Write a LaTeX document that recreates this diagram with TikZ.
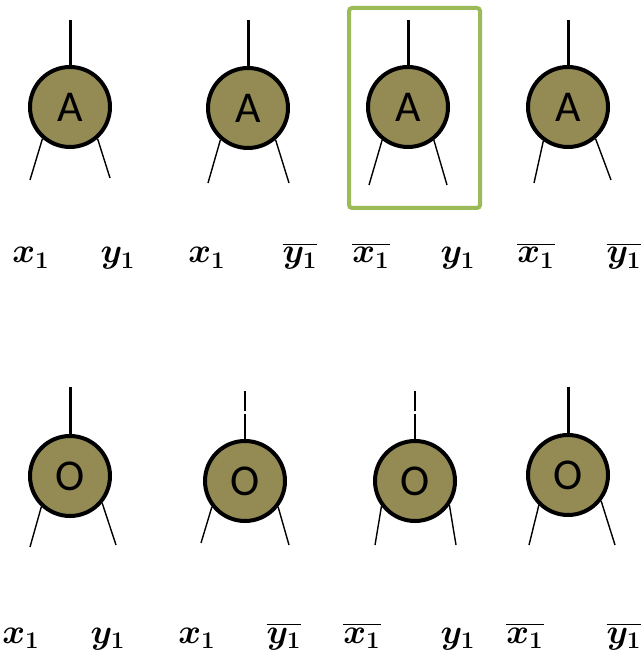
\documentclass[tikz,border=0pt]{standalone}
\usepackage{fontspec}
\setmainfont{Carlito}
\usepackage{bm}
\usetikzlibrary{positioning}
\definecolor{gatefill}{RGB}{148,138,84}
\definecolor{boxgreen}{RGB}{155,187,89}
\tikzstyle{gate} = [circle, draw=black, line width=2pt, fill=gatefill, minimum size=40pt, inner sep=0pt, font=\fontsize{22}{24}\selectfont]
\tikzstyle{wire} = [line width=1.5pt]
\tikzstyle{thinwire} = [line width=1pt]
\tikzstyle{leg} = [line width=0.7pt]
\tikzstyle{lab} = [anchor=base, inner sep=0pt, font=\fontsize{17}{20}\selectfont]
\begin{document}
\begin{tikzpicture}[x=0.5pt,y=-0.5pt]
	\useasboundingbox (0,0) rectangle (643,656);
	% top row: A gates
	\node (a1) [gate] at (70,107) {A};
	\node (a2) [gate] at (248,108) {A};
	\node (a3) [gate] at (408,107) {A};
	\node (a4) [gate] at (568,107) {A};
	\coordinate (a1t) at (70,20);
	\coordinate (a2t) at (248,20);
	\coordinate (a3t) at (408,20);
	\coordinate (a4t) at (568,20);
	\coordinate (a1l) at (30,180);
	\coordinate (a1r) at (110,178);
	\coordinate (a2l) at (208,183);
	\coordinate (a2r) at (289,183);
	\coordinate (a3l) at (369,185);
	\coordinate (a3r) at (447,185);
	\coordinate (a4l) at (534,183);
	\coordinate (a4r) at (611,180);

	\draw [wire] (a1.north) -- (a1t);
	\draw [wire] (a2.north) -- (a2t);
	\draw [wire] (a3.north) -- (a3t);
	\draw [wire] (a4.north) -- (a4t);
	\draw [leg] (a1.229) -- (a1l);
	\draw [leg] (a1.311) -- (a1r);
	\draw [leg] (a2.229) -- (a2l);
	\draw [leg] (a2.311) -- (a2r);
	\draw [leg] (a3.232) -- (a3l);
	\draw [leg] (a3.308) -- (a3r);
	\draw [leg] (a4.234) -- (a4l);
	\draw [leg] (a4.311) -- (a4r);

	\draw [boxgreen, line width=2pt, rounded corners=1.5pt] (349,8) rectangle (480,208);

	\node (ta1) [lab] at (31,263) {$\bm{x_1}$};
	\node (ta2) [lab] at (118,263) {$\bm{y_1}$};
	\node (ta3) [lab] at (207,263) {$\bm{x_1}$};
	\node (ta4) [lab] at (300,263) {$\overline{\bm{y_1}}$};
	\node (ta5) [lab] at (371,263) {$\overline{\bm{x_1}}$};
	\node (ta6) [lab] at (458,263) {$\bm{y_1}$};
	\node (ta7) [lab] at (536,263) {$\overline{\bm{x_1}}$};
	\node (ta8) [lab] at (624,263) {$\overline{\bm{y_1}}$};

	% bottom row: O gates
	\node (o1) [gate] at (70,476) {O};
	\node (o2) [gate] at (245,481) {O};
	\node (o3) [gate] at (415,481) {O};
	\node (o4) [gate] at (568,475) {O};
	\coordinate (o1t) at (70,387);
	\coordinate (o2t) at (245,391);
	\coordinate (o2m) at (245,411);
	\coordinate (o2g) at (245,414);
	\coordinate (o3t) at (415,391);
	\coordinate (o3m) at (415,411);
	\coordinate (o3g) at (415,414);
	\coordinate (o4t) at (568,387);
	\coordinate (o1l) at (30,547);
	\coordinate (o1r) at (116,545);
	\coordinate (o2l) at (201,543);
	\coordinate (o2r) at (289,545);
	\coordinate (o3l) at (375,545);
	\coordinate (o3r) at (456,545);
	\coordinate (o4l) at (529,545);
	\coordinate (o4r) at (615,545);

	\draw [wire] (o1.north) -- (o1t);
	\draw [thinwire] (o2.north) -- (o2g);
	\draw [thinwire] (o2m) -- (o2t);
	\draw [thinwire] (o3.north) -- (o3g);
	\draw [thinwire] (o3m) -- (o3t);
	\draw [wire] (o4.north) -- (o4t);
	\draw [leg] (o1.227) -- (o1l);
	\draw [leg] (o1.320) -- (o1r);
	\draw [leg] (o2.218) -- (o2l);
	\draw [leg] (o2.322) -- (o2r);
	\draw [leg] (o3.217) -- (o3l);
	\draw [leg] (o3.325) -- (o3r);
	\draw [leg] (o4.226) -- (o4l);
	\draw [leg] (o4.322) -- (o4r);

	\node (tb1) [lab] at (21,643) {$\bm{x_1}$};
	\node (tb2) [lab] at (108,643) {$\bm{y_1}$};
	\node (tb3) [lab] at (197,643) {$\bm{x_1}$};
	\node (tb4) [lab] at (284,643) {$\overline{\bm{y_1}}$};
	\node (tb5) [lab] at (362,643) {$\overline{\bm{x_1}}$};
	\node (tb6) [lab] at (458,643) {$\bm{y_1}$};
	\node (tb7) [lab] at (525,643) {$\overline{\bm{x_1}}$};
	\node (tb8) [lab] at (624,643) {$\overline{\bm{y_1}}$};
\end{tikzpicture}
\end{document}
